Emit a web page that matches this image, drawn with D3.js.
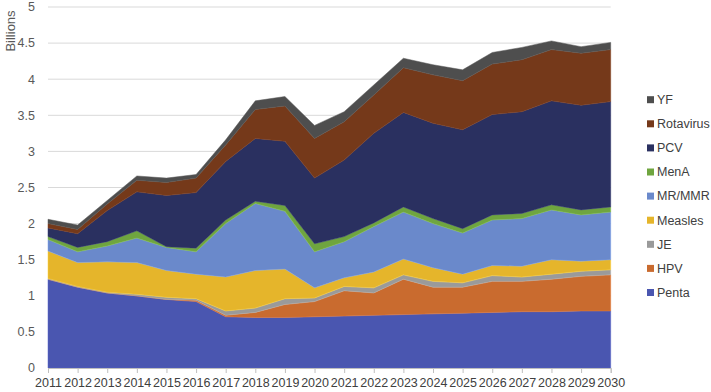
<!DOCTYPE html>
<html><head><meta charset="utf-8">
<script src="https://cdn.jsdelivr.net/npm/d3@7/dist/d3.min.js"></script>
<style>body{margin:0;background:#fff}svg{display:block;font-family:"Liberation Sans",Arial,sans-serif}</style>
</head><body><svg id="c" width="711" height="392"></svg>
<script>
const years = [2011,2012,2013,2014,2015,2016,2017,2018,2019,2020,2021,2022,2023,2024,2025,2026,2027,2028,2029,2030];
const seriesNames = ["Penta","HPV","JE","Measles","MR/MMR","MenA","PCV","Rotavirus","YF"];
const penta   = [1.23,1.12,1.04,1.00,0.95,0.92,0.71,0.70,0.70,0.71,0.72,0.73,0.74,0.75,0.76,0.77,0.78,0.78,0.79,0.79];
const hpv     = [0,0,0,0,0,0.02,0.02,0.07,0.18,0.21,0.35,0.31,0.49,0.37,0.36,0.43,0.42,0.45,0.48,0.50];
const je      = [0.01,0.01,0.01,0.02,0.03,0.02,0.06,0.06,0.08,0.05,0.06,0.07,0.06,0.08,0.06,0.08,0.06,0.07,0.07,0.07];
const measles = [0.38,0.33,0.42,0.44,0.37,0.34,0.47,0.52,0.41,0.14,0.12,0.22,0.22,0.19,0.12,0.14,0.15,0.20,0.14,0.14];
const mrmmr   = [0.16,0.15,0.22,0.34,0.32,0.31,0.74,0.93,0.80,0.50,0.50,0.63,0.65,0.61,0.57,0.63,0.66,0.69,0.64,0.66];
const mena    = [0.04,0.06,0.06,0.10,0.01,0.05,0.05,0.03,0.08,0.11,0.07,0.05,0.07,0.07,0.06,0.07,0.07,0.07,0.07,0.07];
const pcv     = [0.12,0.19,0.43,0.54,0.71,0.77,0.81,0.87,0.89,0.91,1.06,1.24,1.31,1.32,1.37,1.39,1.41,1.44,1.45,1.46];
const rota    = [0.06,0.06,0.09,0.16,0.18,0.20,0.23,0.40,0.49,0.55,0.53,0.53,0.62,0.67,0.68,0.70,0.72,0.71,0.72,0.72];
const yf      = [0.06,0.06,0.05,0.06,0.06,0.05,0.07,0.12,0.13,0.18,0.14,0.14,0.13,0.14,0.15,0.16,0.17,0.12,0.09,0.10];
const yTicks  = [0,0.5,1,1.5,2,2.5,3,3.5,4,4.5,5];
const colors  = ["#4a56b0","#c96b2f","#9a9a9a","#e5b52b","#6a89cb","#6fa53f","#2a3060","#75391a","#4e4e4e"];

const valuesBySeries = [penta,hpv,je,measles,mrmmr,mena,pcv,rota,yf];
const table = years.map((yr,i)=>{const o={year:yr};seriesNames.forEach((n,k)=>o[n]=valuesBySeries[k][i]);return o;});

const svg = d3.select("#c");
const x = d3.scaleLinear().domain([2011,2030]).range([48,610.7]);
const y = d3.scaleLinear().domain([0,5]).range([368,7]);

// gridlines
svg.append("g").selectAll("line").data(yTicks.filter(t=>t>0)).join("line")
  .attr("x1",48).attr("x2",610.7).attr("y1",d=>y(d)).attr("y2",d=>y(d))
  .attr("stroke","#d9d9d9").attr("stroke-width",1);

const stack = d3.stack().keys(seriesNames);
const layers = stack(table);
const area = d3.area().x(d=>x(d.data.year)).y0(d=>y(d[0])).y1(d=>y(d[1]));
svg.append("g").selectAll("path").data(layers).join("path")
  .attr("d",area).attr("fill",(d,i)=>colors[i])
  .attr("stroke",(d,i)=>d3.color(colors[i]).brighter(0.4)).attr("stroke-width",0.5);

// y labels
svg.append("g").selectAll("text").data(yTicks).join("text")
  .attr("x",35).attr("y",d=>y(d)).attr("dy","0.35em").attr("text-anchor","end")
  .attr("font-size",12.5).attr("fill","#595959").text(d=>d);

// x axis
const xAxis = d3.axisBottom(x).tickValues(years).tickFormat(d3.format("d")).tickSize(5).tickPadding(5);
const gx = svg.append("g").attr("transform","translate(0,368)").call(xAxis);
gx.select(".domain").attr("stroke","#bfbfbf");
gx.selectAll(".tick line").attr("stroke","#bfbfbf");
gx.selectAll("text").attr("font-size",12.5).attr("fill","#404040").attr("font-family","Liberation Sans, Arial, sans-serif");

svg.append("text").attr("transform","translate(15,31) rotate(-90)").attr("text-anchor","middle")
  .attr("font-size",13).attr("fill","#595959").text("Billions");

// legend (top to bottom reversed)
const legendItems = seriesNames.map((n,i)=>({n,c:colors[i]})).reverse();
const lg = svg.append("g").selectAll("g").data(legendItems).join("g")
  .attr("transform",(d,i)=>`translate(647,${99.7+i*24.1})`);
lg.append("rect").attr("x",0).attr("y",-3.5).attr("width",7).attr("height",7).attr("fill",d=>d.c);
lg.append("text").attr("x",10).attr("dy","0.35em").attr("font-size",12.5).attr("fill","#404040").text(d=>d.n);
</script></body></html>
